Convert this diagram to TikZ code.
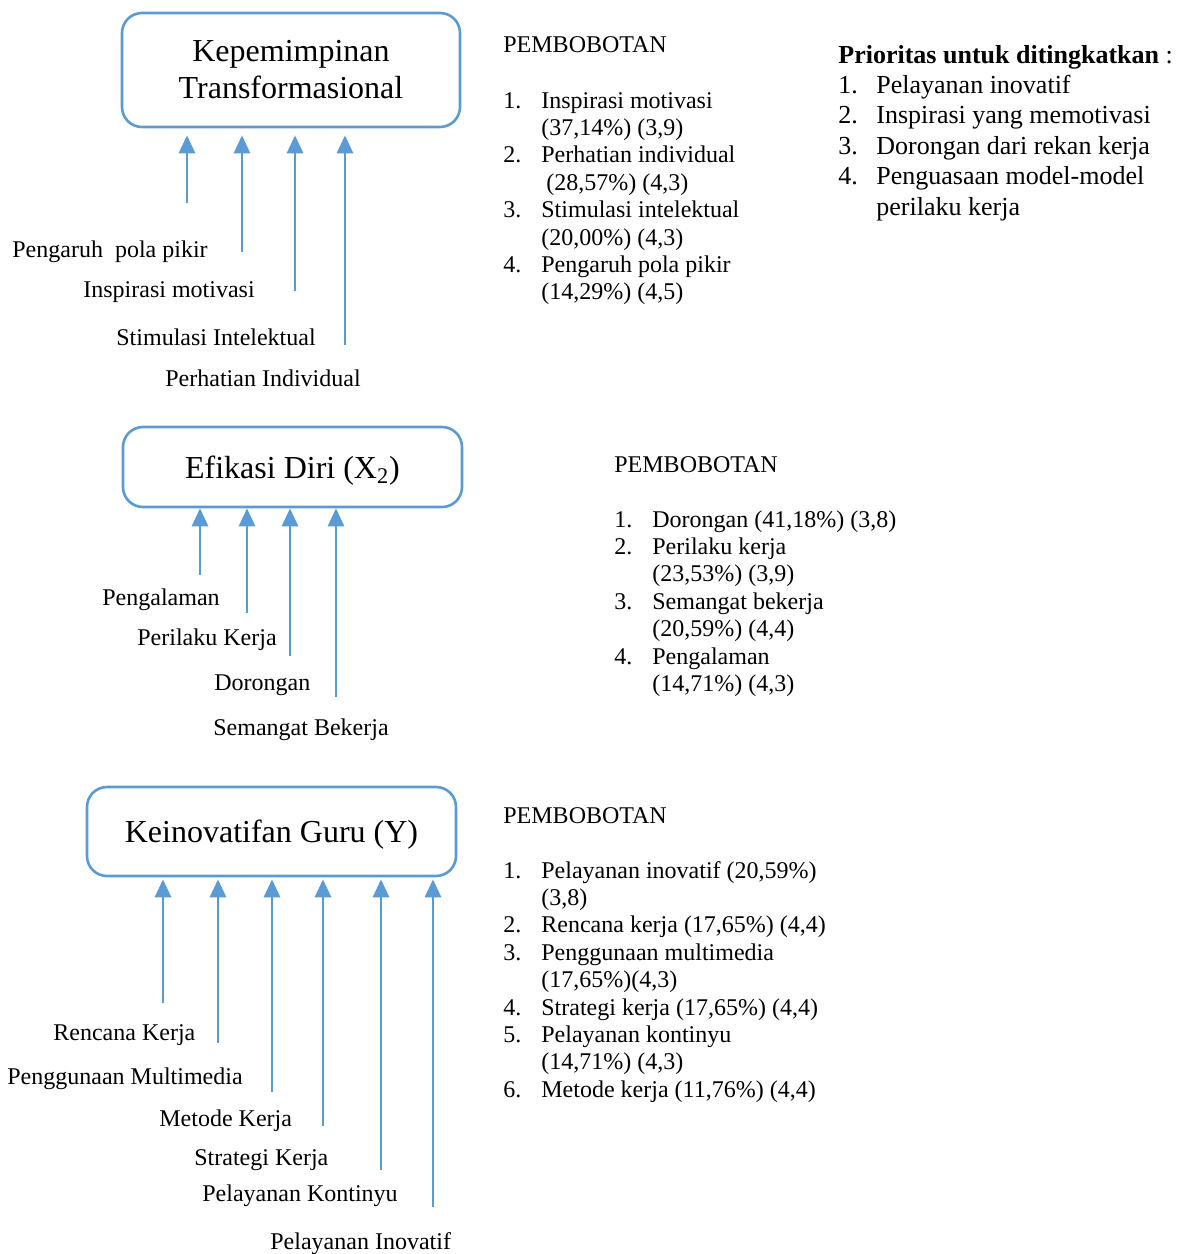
\documentclass[tikz,border=0pt]{standalone}
\usepackage{fontspec}
\setmainfont{Liberation Serif}
\usetikzlibrary{arrows.meta}
\definecolor{boxblue}{HTML}{5B9BD5}
\begin{document}
\begin{tikzpicture}
	[x=0.5pt,y=-0.5pt,
	box/.style={draw=boxblue,line width=1.3pt,rounded corners=10pt,inner sep=0pt,align=center,font=\fontsize{16}{18.5}\selectfont},
	arr/.style={boxblue,line width=1.4pt,-{Triangle[width=8pt,length=9pt]}},
	lbl/.style={anchor=base west,inner sep=0pt,font=\fontsize{12}{14}\selectfont},
	lst/.style={anchor=base west,inner sep=0pt,font=\fontsize{12}{13.7}\selectfont},
	prio/.style={anchor=base west,inner sep=0pt,font=\fontsize{13}{15.25}\selectfont}]
	\useasboundingbox (0,0) rectangle (1183,1254);
	\node[box,minimum width=169pt,minimum height=57pt] at (291,70) (kep) {Kepemimpinan\\Transformasional};
	\node[box,text depth=0pt,minimum width=169.5pt,minimum height=40pt] at (292.5,467) (efi) {Efikasi Diri (X\textsubscript{2})};
	\node[box,text depth=0pt,minimum width=184.5pt,minimum height=44.5pt] at (271.5,831.5) (ino) {Keinovatifan Guru (Y)};
	\node[lbl] at (12,257) (lpp) {Pengaruh\ \ pola pikir};
	\node[lbl] at (83,297) (lim) {Inspirasi motivasi};
	\node[lbl] at (116,345) (lsi) {Stimulasi Intelektual};
	\node[lbl] at (165,386) (lpi) {Perhatian Individual};
	\node[lbl] at (102,605) (lpg) {Pengalaman};
	\node[lbl] at (137,645) (lpk) {Perilaku Kerja};
	\node[lbl] at (214,690) (ldr) {Dorongan};
	\node[lbl] at (213,735) (lsb) {Semangat Bekerja};
	\node[lbl] at (53,1040) (lrk) {Rencana Kerja};
	\node[lbl] at (7,1084) (lpm) {Penggunaan Multimedia};
	\node[lbl] at (159,1126) (lmk) {Metode Kerja};
	\node[lbl] at (194,1165) (lsk) {Strategi Kerja};
	\node[lbl] at (202,1201) (lpkt) {Pelayanan Kontinyu};
	\node[lbl] at (270,1249) (lpin) {Pelayanan Inovatif};
	\coordinate (a1) at (187,203);
	\coordinate (a2) at (242,252);
	\coordinate (a3) at (295,291);
	\coordinate (a4) at (345,345);
	\coordinate (b1) at (200,575);
	\coordinate (b2) at (247,613);
	\coordinate (b3) at (290,656);
	\coordinate (b4) at (336,697);
	\coordinate (c1) at (163,1003);
	\coordinate (c2) at (218,1043);
	\coordinate (c3) at (272,1092);
	\coordinate (c4) at (323,1126);
	\coordinate (c5) at (381,1170);
	\coordinate (c6) at (433,1207);
	\draw[arr,shorten >=3.5pt] (a1) -- (a1 |- kep.south);
	\draw[arr,shorten >=3.5pt] (a2) -- (a2 |- kep.south);
	\draw[arr,shorten >=3.5pt] (a3) -- (a3 |- kep.south);
	\draw[arr,shorten >=3.5pt] (a4) -- (a4 |- kep.south);
	\draw[arr] (b1) -- (b1 |- efi.south);
	\draw[arr] (b2) -- (b2 |- efi.south);
	\draw[arr] (b3) -- (b3 |- efi.south);
	\draw[arr] (b4) -- (b4 |- efi.south);
	\draw[arr,shorten >=1pt] (c1) -- (c1 |- ino.south);
	\draw[arr,shorten >=1pt] (c2) -- (c2 |- ino.south);
	\draw[arr,shorten >=1pt] (c3) -- (c3 |- ino.south);
	\draw[arr,shorten >=1pt] (c4) -- (c4 |- ino.south);
	\draw[arr,shorten >=1pt] (c5) -- (c5 |- ino.south);
	\draw[arr,shorten >=1pt] (c6) -- (c6 |- ino.south);
	\node[lst] at (503,52) (pb1) {PEMBOBOTAN};
	\node[lst] at (503,108) (ls1) {\begin{tabular}[t]{@{}p{19pt}@{}l@{}}
		1. & Inspirasi motivasi\\
		 & (37,14\%) (3,9)\\
		2. & Perhatian individual\\
		 & \hspace{2.5pt}(28,57\%) (4,3)\\
		3. & Stimulasi intelektual\\
		 & (20,00\%) (4,3)\\
		4. & Pengaruh pola pikir\\
		 & (14,29\%) (4,5)
	\end{tabular}};
	\node[lst] at (614,472) (pb2) {PEMBOBOTAN};
	\node[lst] at (614,527) (ls2) {\begin{tabular}[t]{@{}p{19pt}@{}l@{}}
		1. & Dorongan (41,18\%) (3,8)\\
		2. & Perilaku kerja\\
		 & (23,53\%) (3,9)\\
		3. & Semangat bekerja\\
		 & (20,59\%) (4,4)\\
		4. & Pengalaman\\
		 & (14,71\%) (4,3)
	\end{tabular}};
	\node[lst] at (503,823) (pb3) {PEMBOBOTAN};
	\node[lst] at (503,878) (ls3) {\begin{tabular}[t]{@{}p{19pt}@{}l@{}}
		1. & Pelayanan inovatif (20,59\%)\\
		 & (3,8)\\
		2. & Rencana kerja (17,65\%) (4,4)\\
		3. & Penggunaan multimedia\\
		 & (17,65\%)(4,3)\\
		4. & Strategi kerja (17,65\%) (4,4)\\
		5. & Pelayanan kontinyu\\
		 & (14,71\%) (4,3)\\
		6. & Metode kerja (11,76\%) (4,4)
	\end{tabular}};
	\node[prio] at (838,63) (pr) {\textbf{Prioritas untuk ditingkatkan} :};
	\node[prio] at (838,93) (prl) {\begin{tabular}[t]{@{}p{19pt}@{}l@{}}
		1. & Pelayanan inovatif\\
		2. & Inspirasi yang memotivasi\\
		3. & Dorongan dari rekan kerja\\
		4. & Penguasaan model-model\\
		 & perilaku kerja
	\end{tabular}};
\end{tikzpicture}
\end{document}
